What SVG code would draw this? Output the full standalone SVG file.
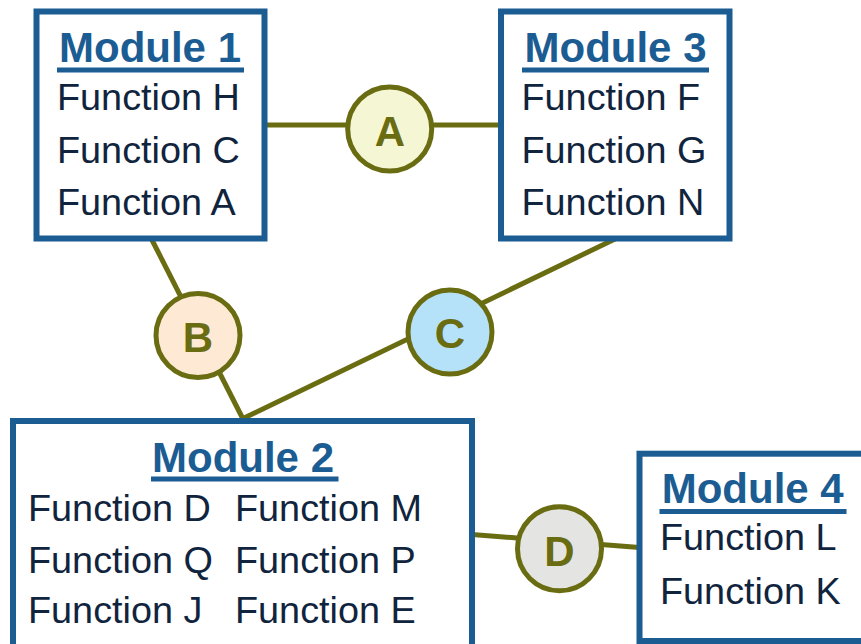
<svg xmlns="http://www.w3.org/2000/svg" width="861" height="644" viewBox="0 0 861 644">
<style>
.box{fill:#ffffff;stroke:#1b5c93;stroke-width:6}
.title{font-family:"Liberation Sans",Arial,sans-serif;font-weight:bold;font-size:42px;fill:#1b5c93;text-anchor:middle}
.ul{stroke:#1b5c93;stroke-width:5}
.fn{font-family:"Liberation Sans",Arial,sans-serif;font-size:37.8px;fill:#10243e}
.conn{stroke:#6a6c12;stroke-width:5;fill:none}
.hub{stroke:#6a6c12;stroke-width:5}
.lbl{font-family:"Liberation Sans",Arial,sans-serif;font-weight:bold;font-size:42px;fill:#6a6c12;text-anchor:middle}
</style>
<rect width="861" height="644" fill="#ffffff"/>
<g id="connectors">
<line class="conn" x1="265" y1="125" x2="501" y2="125"/>
<line class="conn" x1="151" y1="238" x2="243" y2="419"/>
<line class="conn" x1="615" y1="239" x2="242" y2="419"/>
<line class="conn" x1="472" y1="534.5" x2="639.5" y2="547.5"/>
</g>
<g id="module1">
<rect class="box" x="36.5" y="11.5" width="228" height="227"/>
<text class="title" x="150" y="62">Module 1</text>
<line class="ul" x1="57" y1="70" x2="244" y2="70"/>
<text class="fn" x="57" y="110">Function H</text>
<text class="fn" x="57" y="163">Function C</text>
<text class="fn" x="57" y="215">Function A</text>
</g>
<g id="module3">
<rect class="box" x="501" y="11.5" width="228.5" height="227"/>
<text class="title" x="615.5" y="62">Module 3</text>
<line class="ul" x1="522" y1="70" x2="709" y2="70"/>
<text class="fn" x="521.5" y="110">Function F</text>
<text class="fn" x="521.5" y="163">Function G</text>
<text class="fn" x="521.5" y="215">Function N</text>
</g>
<g id="module2">
<rect class="box" x="13" y="421" width="459" height="240"/>
<text class="title" x="243" y="471.5">Module 2</text>
<line class="ul" x1="151" y1="479" x2="338.5" y2="479"/>
<text class="fn" x="28" y="520.5">Function D</text>
<text class="fn" x="28" y="572.5">Function Q</text>
<text class="fn" x="28" y="623">Function J</text>
<text class="fn" x="235" y="520.5">Function M</text>
<text class="fn" x="235" y="572.5">Function P</text>
<text class="fn" x="235" y="623">Function E</text>
</g>
<g id="module4">
<rect class="box" x="639.5" y="453.7" width="240" height="187.3"/>
<text class="title" x="752.7" y="502.5">Module 4</text>
<line class="ul" x1="659.5" y1="511.5" x2="846.5" y2="511.5"/>
<text class="fn" x="660" y="550">Function L</text>
<text class="fn" x="660" y="604">Function K</text>
</g>
<g id="hubA">
<circle class="hub" cx="389.7" cy="129" r="42" fill="#f5f7d4"/>
<text class="lbl" x="390" y="146">A</text>
</g>
<g id="hubB">
<circle class="hub" cx="198" cy="335.5" r="42" fill="#fde9d4"/>
<text class="lbl" x="198" y="351.5">B</text>
</g>
<g id="hubC">
<circle class="hub" cx="450" cy="332" r="42" fill="#b5e2f9"/>
<text class="lbl" x="450" y="348">C</text>
</g>
<g id="hubD">
<circle class="hub" cx="559.5" cy="548.7" r="42" fill="#e4e5e3"/>
<text class="lbl" x="559.5" y="565.5">D</text>
</g>
</svg>
